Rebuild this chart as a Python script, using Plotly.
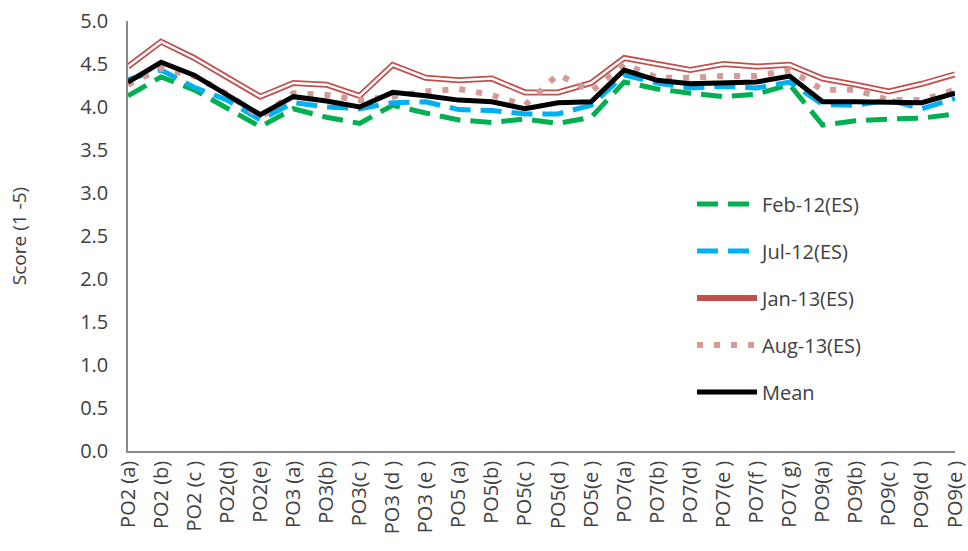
import plotly.graph_objects as go

categories = ["PO2 (a)", "PO2 (b)", "PO2 (c )", "PO2(d)", "PO2(e)",
              "PO3 (a)", "PO3(b)", "PO3(c )", "PO3 (d )", "PO3 (e )",
              "PO5 (a)", "PO5(b)", "PO5(c )", "PO5(d )", "PO5(e )",
              "PO7(a)", "PO7(b)", "PO7(d)", "PO7(e )", "PO7(f )", "PO7( g)",
              "PO9(a)", "PO9(b)", "PO9(c )", "PO9(d )", "PO9(e )"]

feb12 = [4.13, 4.35, 4.20, 3.99, 3.77, 3.98, 3.88, 3.81, 4.02, 3.93,
         3.85, 3.82, 3.86, 3.81, 3.88, 4.29, 4.21, 4.16, 4.12, 4.15, 4.26,
         3.79, 3.84, 3.86, 3.87, 3.92]
jul12 = [4.32, 4.43, 4.23, 4.08, 3.85, 4.05, 4.00, 3.98, 4.05, 4.06,
         3.97, 3.96, 3.92, 3.92, 4.02, 4.37, 4.28, 4.22, 4.24, 4.22, 4.29,
         4.03, 4.02, 4.08, 3.98, 4.10]
jan13 = [4.47, 4.76, 4.57, 4.34, 4.12, 4.28, 4.26, 4.13, 4.49, 4.34,
         4.31, 4.33, 4.17, 4.17, 4.28, 4.57, 4.50, 4.43, 4.50, 4.47, 4.49,
         4.33, 4.26, 4.18, 4.27, 4.38]
aug13 = [4.26, 4.45, 4.36, 4.15, 3.88, 4.16, 4.14, 4.08, 4.12, 4.18,
         4.21, 4.14, 4.02, 4.38, 4.18, 4.50, 4.34, 4.34, 4.36, 4.36, 4.43,
         4.20, 4.20, 4.08, 4.08, 4.20]
mean = [4.29, 4.52, 4.37, 4.14, 3.91, 4.12, 4.07, 4.00, 4.17, 4.13,
        4.08, 4.06, 3.98, 4.05, 4.06, 4.43, 4.31, 4.27, 4.28, 4.29, 4.36,
        4.06, 4.06, 4.05, 4.05, 4.16]

y_ticks = [0.0, 0.5, 1.0, 1.5, 2.0, 2.5, 3.0, 3.5, 4.0, 4.5, 5.0]
y_tick_text = [f"{v:.1f}" for v in y_ticks]

FONT = "Open Sans"
TXT = "#404040"

fig = go.Figure()
fig.add_trace(go.Scatter(x=categories, y=feb12, mode="lines", name="Feb-12(ES)",
                         legendgroup="a",
                         line=dict(color="#00B050", width=5, dash="21px,10px")))
fig.add_trace(go.Scatter(x=categories, y=jul12, mode="lines", name="Jul-12(ES)",
                         legendgroup="b",
                         line=dict(color="#00B0F0", width=5, dash="21px,10px")))
fig.add_trace(go.Scatter(x=categories, y=jan13, mode="lines", name="Jan-13(ES)",
                         legendgroup="c",
                         line=dict(color="#C0504D", width=6)))
fig.add_trace(go.Scatter(x=categories, y=jan13, mode="lines", showlegend=False,
                         legendgroup="c", hoverinfo="skip",
                         line=dict(color="white", width=2.5)))
fig.add_trace(go.Scatter(x=categories, y=aug13, mode="lines", name="Aug-13(ES)",
                         legendgroup="d",
                         line=dict(color="#D49A98", width=6, dash="6px,11px")))
fig.add_trace(go.Scatter(x=categories, y=mean, mode="lines", name="Mean",
                         legendgroup="e",
                         line=dict(color="black", width=5)))

fig.update_layout(
    width=968, height=551,
    margin=dict(l=128, r=13, t=21, b=100),
    paper_bgcolor="white", plot_bgcolor="white",
    font=dict(family=FONT, size=20, color=TXT),
    showlegend=True,
    legend=dict(x=0.682, y=0.62, xanchor="left", yanchor="top",
                bgcolor="rgba(0,0,0,0)", borderwidth=0,
                traceorder="grouped", tracegroupgap=18, itemwidth=60,
                font=dict(family=FONT, size=20, color=TXT)),
    xaxis=dict(type="category", range=[0, 25], showgrid=False, zeroline=False,
               showline=True, linecolor="#888888", linewidth=1.5,
               tickangle=-90, ticks="", tickfont=dict(size=20),
               ticklabeloverflow="allow", automargin=False),
    yaxis=dict(range=[0, 5], tickvals=y_ticks, ticktext=y_tick_text,
               showgrid=False, zeroline=False, showline=True,
               linecolor="#888888", linewidth=1.5, ticks="",
               tickfont=dict(size=20), ticklabelstandoff=14,
               ticklabeloverflow="allow", automargin=False,
               title=dict(text="Score (1 -5)", font=dict(size=19), standoff=48)),
)

fig.write_html("out.html", config={"displayModeBar": False},
               post_script="document.body.style.margin='0';document.body.style.overflow='hidden';")
